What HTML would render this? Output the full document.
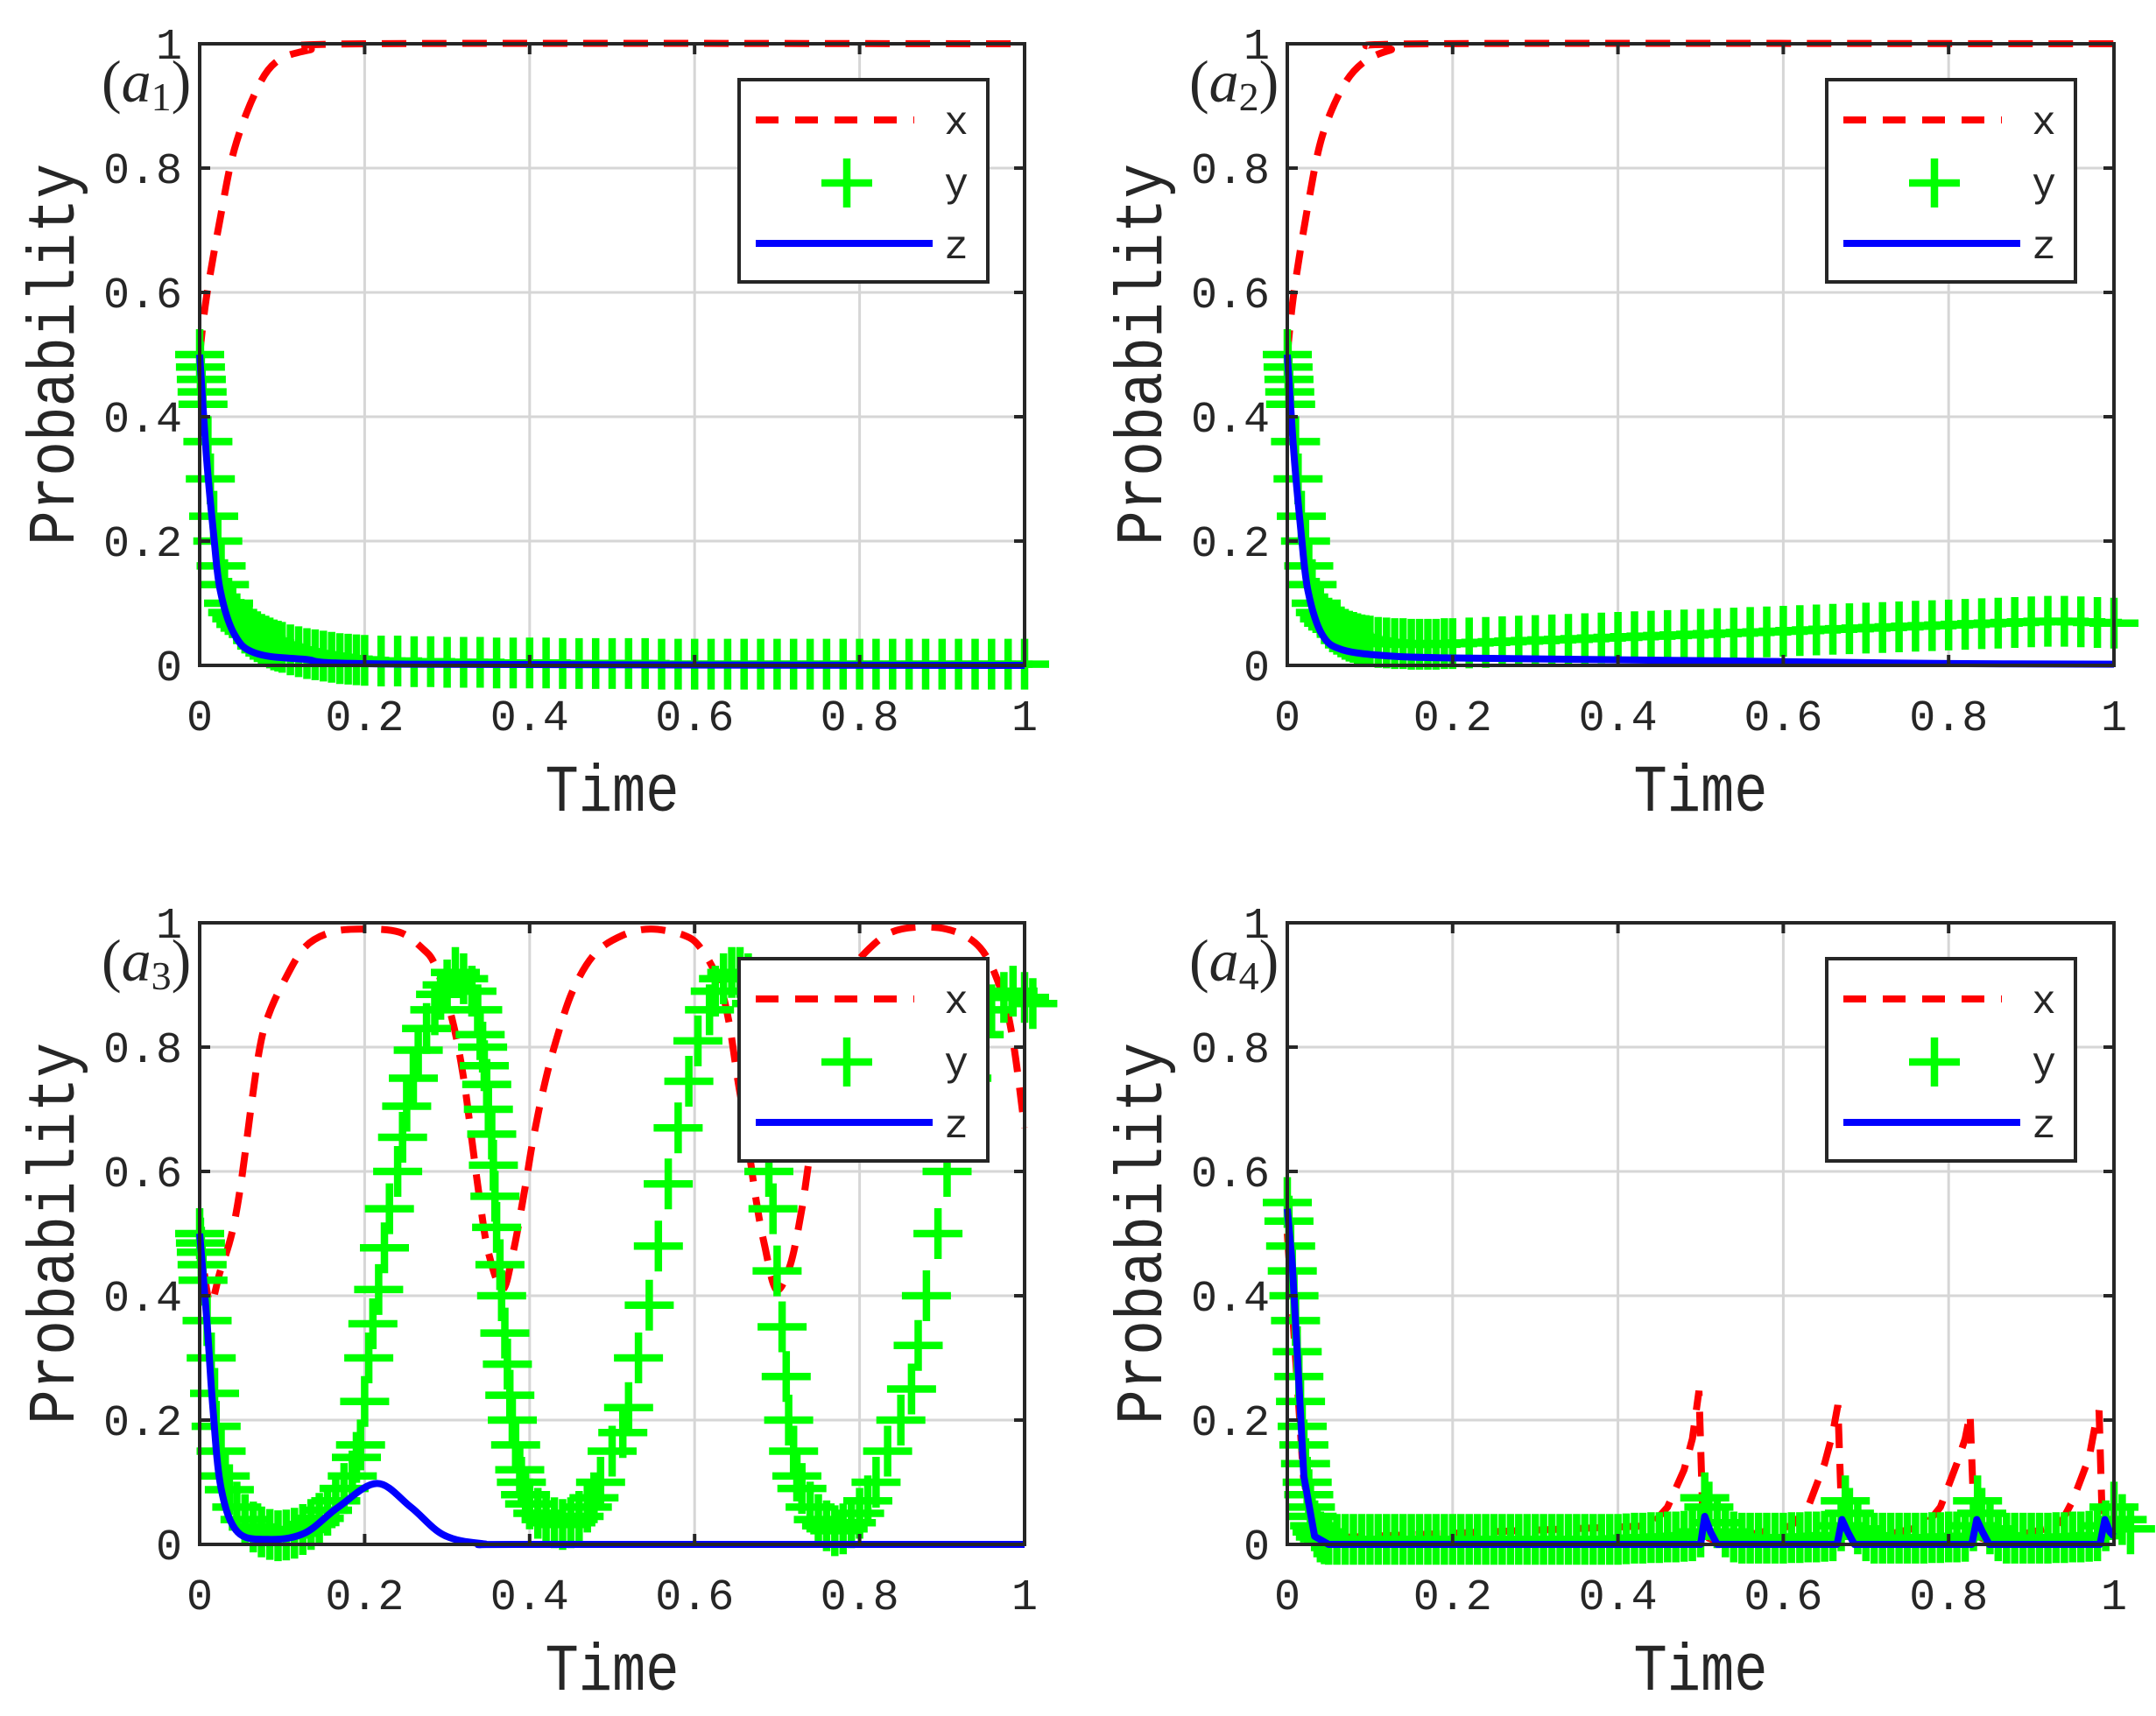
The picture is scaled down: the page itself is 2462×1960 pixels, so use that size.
<!DOCTYPE html>
<html><head><meta charset="utf-8"><style>
html,body{margin:0;padding:0;background:#fff;}
svg{display:block;}
text{font-family:"Liberation Mono",monospace;fill:#262626;}
</style></head><body>
<svg id="fig" width="2462" height="1960" viewBox="0 0 2462 1960" xmlns="http://www.w3.org/2000/svg"></svg>
<script>
// ---------- data ----------
const ticks = [0, 0.2, 0.4, 0.6, 0.8, 1];
const tickLabels = ["0", "0.2", "0.4", "0.6", "0.8", "1"];
const legendLabels = ["x", "y", "z"];
const panelLabels = ["1", "2", "3", "4"];

// Panel a1
const x1T = [0,0.008,0.025,0.042,0.067,0.092,0.133,0.2,1];
const x1V = [0.5,0.59,0.72,0.83,0.92,0.97,0.99,1,1];
const z1T = [0,0.008,0.017,0.025,0.042,0.067,0.125,0.25,1];
const z1V = [0.5,0.34,0.21,0.12,0.05,0.02,0.01,0.002,0];
const y1T = [0,0.001,0.002,0.003,0.004,0.01,0.013,0.017,0.022,0.026,0.03,0.035,0.04,0.045,0.05,0.055,0.06,0.065,0.07,0.075,0.08,0.085,0.09,0.095,0.1,0.11,0.12,0.13,0.14,0.15,0.16,0.17,0.18,0.19,0.2,0.22,0.24,0.26,0.28,0.3,0.32,0.34,0.36,0.38,0.4,0.42,0.44,0.46,0.48,0.5,0.52,0.54,0.56,0.58,0.6,0.62,0.64,0.66,0.68,0.7,0.72,0.74,0.76,0.78,0.8,0.82,0.84,0.86,0.88,0.9,0.92,0.94,0.96,0.98,1];
const y1V = [0.5,0.48,0.46,0.44,0.42,0.36,0.3,0.24,0.2,0.16,0.13,0.1,0.085,0.075,0.066,0.06,0.055,0.05,0.046,0.042,0.039,0.036,0.033,0.031,0.029,0.025,0.022,0.019,0.017,0.015,0.013,0.011,0.01,0.009,0.008,0.007,0.007,0.006,0.006,0.005,0.005,0.005,0.004,0.004,0.004,0.004,0.003,0.003,0.003,0.003,0.003,0.003,0.002,0.002,0.002,0.002,0.002,0.002,0.002,0.002,0.002,0.002,0.002,0.002,0.002,0.002,0.002,0.002,0.002,0.002,0.002,0.002,0.002,0.002,0.002];

// Panel a2
const x2T = [0,0.008,0.025,0.042,0.067,0.092,0.125,0.17,1];
const x2V = [0.5,0.6,0.74,0.85,0.93,0.97,0.99,1,1];
const z2T = [0,0.008,0.017,0.025,0.042,0.067,0.125,0.2,0.4,0.6,0.8,1];
const z2V = [0.5,0.34,0.21,0.12,0.05,0.025,0.015,0.012,0.009,0.006,0.003,0.002];
const y2T = y1T;
const y2V = [0.5,0.48,0.46,0.44,0.42,0.36,0.3,0.24,0.2,0.16,0.13,0.1,0.085,0.075,0.068,0.062,0.058,0.054,0.05,0.047,0.045,0.043,0.041,0.04,0.039,0.037,0.036,0.035,0.035,0.034,0.034,0.034,0.034,0.035,0.035,0.036,0.037,0.038,0.039,0.040,0.041,0.042,0.043,0.044,0.045,0.046,0.047,0.048,0.049,0.050,0.051,0.052,0.053,0.054,0.055,0.056,0.057,0.058,0.059,0.060,0.061,0.062,0.063,0.064,0.065,0.066,0.067,0.068,0.069,0.070,0.071,0.071,0.070,0.069,0.068];

// Panel a3
const x3T = [0,0.012,0.025,0.039,0.05,0.063,0.073,0.083,0.1,0.127,0.16,0.2,0.242,0.269,0.286,0.306,0.32,0.33,0.34,0.35,0.367,0.38,0.394,0.404,0.418,0.432,0.452,0.479,0.513,0.547,0.587,0.607,0.628,0.641,0.652,0.662,0.675,0.685,0.699,0.716,0.73,0.74,0.76,0.785,0.817,0.851,0.905,0.946,0.972,0.986,1];
const x3V = [0.5,0.39,0.44,0.5,0.58,0.71,0.8,0.85,0.9,0.96,0.985,0.99,0.985,0.96,0.93,0.845,0.75,0.65,0.55,0.47,0.41,0.47,0.57,0.65,0.74,0.81,0.89,0.95,0.98,0.99,0.98,0.96,0.91,0.845,0.75,0.67,0.55,0.48,0.41,0.45,0.54,0.63,0.8,0.91,0.965,0.99,0.99,0.96,0.89,0.81,0.67];
const z3T = [0,0.009,0.016,0.026,0.046,0.083,0.127,0.168,0.215,0.256,0.296,0.344,0.4,1];
const z3V = [0.5,0.355,0.22,0.09,0.02,0.008,0.018,0.06,0.098,0.06,0.015,0.001,0,0];
const y3T = [0,0.001,0.002,0.003,0.004,0.009,0.014,0.018,0.02,0.026,0.031,0.036,0.045,0.055,0.065,0.075,0.085,0.095,0.105,0.115,0.125,0.135,0.145,0.155,0.165,0.175,0.185,0.19,0.195,0.2,0.205,0.21,0.217,0.224,0.23,0.24,0.246,0.251,0.259,0.265,0.275,0.285,0.292,0.3,0.31,0.32,0.33,0.337,0.34,0.343,0.345,0.348,0.35,0.354,0.356,0.358,0.36,0.364,0.366,0.37,0.373,0.376,0.379,0.383,0.388,0.39,0.395,0.4,0.41,0.42,0.43,0.44,0.45,0.46,0.47,0.478,0.486,0.5,0.513,0.52,0.532,0.545,0.556,0.568,0.58,0.593,0.604,0.618,0.625,0.635,0.645,0.655,0.665,0.675,0.685,0.69,0.695,0.7,0.706,0.711,0.714,0.72,0.724,0.73,0.74,0.75,0.76,0.77,0.78,0.79,0.8,0.81,0.82,0.834,0.85,0.863,0.871,0.881,0.895,0.906,0.918,0.93,0.945,0.96,0.975,0.986,1,1.01];
const y3V = [0.5,0.485,0.47,0.45,0.425,0.36,0.3,0.243,0.19,0.15,0.11,0.088,0.06,0.04,0.028,0.02,0.016,0.014,0.015,0.018,0.024,0.032,0.042,0.055,0.07,0.09,0.11,0.14,0.16,0.23,0.3,0.355,0.41,0.477,0.54,0.6,0.655,0.705,0.75,0.795,0.83,0.86,0.885,0.9,0.92,0.91,0.89,0.86,0.82,0.8,0.77,0.74,0.7,0.66,0.61,0.56,0.51,0.45,0.4,0.34,0.29,0.24,0.2,0.16,0.12,0.1,0.08,0.065,0.05,0.04,0.035,0.032,0.035,0.045,0.06,0.075,0.1,0.15,0.18,0.22,0.3,0.385,0.48,0.58,0.67,0.745,0.81,0.86,0.89,0.91,0.92,0.92,0.91,0.87,0.75,0.6,0.54,0.44,0.35,0.27,0.2,0.15,0.11,0.09,0.06,0.04,0.03,0.022,0.025,0.035,0.05,0.07,0.1,0.15,0.2,0.25,0.32,0.4,0.5,0.6,0.68,0.75,0.82,0.86,0.88,0.89,0.88,0.87];

// Panel a4
const x4T = [0,0.02,0.04,0.44,0.46,0.48,0.49,0.498,0.503,0.51,0.52,0.61,0.63,0.65,0.66,0.666,0.671,0.68,0.69,0.772,0.79,0.81,0.82,0.826,0.831,0.84,0.85,0.934,0.95,0.97,0.977,0.982,0.986,0.99];
const x4V = [0.5,0.1,0.01,0.03,0.06,0.12,0.17,0.247,0.03,0.01,0.005,0.03,0.06,0.13,0.18,0.224,0.03,0.01,0.005,0.03,0.06,0.13,0.17,0.21,0.03,0.01,0.005,0.03,0.07,0.14,0.19,0.215,0.03,0.01];
const z4T = [0,0.006,0.012,0.02,0.033,0.05,0.5,0.505,0.512,0.52,0.665,0.671,0.678,0.686,0.828,0.834,0.841,0.849,0.983,0.989,0.995,1];
const z4V = [0.54,0.45,0.31,0.11,0.013,0,0,0.045,0.02,0,0,0.04,0.02,0,0,0.04,0.02,0,0,0.04,0.02,0.013];
const y4T = [0,0.002,0.004,0.006,0.008,0.01,0.012,0.014,0.016,0.018,0.02,0.022,0.024,0.026,0.028,0.03,0.033,0.036,0.04,0.045,0.05,0.06,0.07,0.08,0.09,0.1,0.11,0.12,0.13,0.14,0.15,0.16,0.17,0.18,0.19,0.2,0.21,0.22,0.23,0.24,0.25,0.26,0.27,0.28,0.29,0.3,0.31,0.32,0.33,0.34,0.35,0.36,0.37,0.38,0.39,0.4,0.41,0.42,0.43,0.44,0.45,0.46,0.47,0.48,0.49,0.5,0.505,0.51,0.52,0.53,0.54,0.55,0.56,0.57,0.58,0.59,0.6,0.61,0.62,0.63,0.64,0.65,0.66,0.67,0.675,0.68,0.69,0.7,0.71,0.72,0.73,0.74,0.75,0.76,0.77,0.78,0.79,0.8,0.81,0.82,0.83,0.835,0.84,0.85,0.86,0.87,0.88,0.89,0.9,0.91,0.92,0.93,0.94,0.95,0.96,0.97,0.98,0.99,1,1.01,1.02];
const y4V = [0.55,0.52,0.48,0.44,0.4,0.36,0.31,0.27,0.23,0.19,0.16,0.13,0.1,0.08,0.06,0.045,0.03,0.02,0.012,0.009,0.008,0.008,0.008,0.008,0.008,0.008,0.008,0.008,0.008,0.008,0.008,0.008,0.008,0.008,0.008,0.008,0.008,0.008,0.008,0.008,0.008,0.008,0.008,0.008,0.008,0.008,0.008,0.008,0.008,0.008,0.008,0.008,0.008,0.008,0.008,0.008,0.009,0.01,0.01,0.011,0.011,0.012,0.012,0.013,0.014,0.02,0.075,0.06,0.035,0.02,0.012,0.01,0.01,0.01,0.01,0.01,0.01,0.011,0.011,0.012,0.012,0.013,0.014,0.03,0.07,0.05,0.025,0.014,0.01,0.01,0.01,0.01,0.01,0.01,0.01,0.011,0.011,0.012,0.012,0.013,0.03,0.07,0.05,0.025,0.014,0.01,0.01,0.01,0.01,0.01,0.01,0.011,0.011,0.012,0.012,0.013,0.014,0.03,0.06,0.04,0.025];

// ---------- drawing ----------
const NS = "http://www.w3.org/2000/svg";
const svg = document.getElementById("fig");
function mk(tag, attrs, parent) {
  const e = document.createElementNS(NS, tag);
  for (const k in attrs) e.setAttribute(k, attrs[k]);
  (parent || svg).appendChild(e);
  return e;
}
function pathFrom(pts, smooth) {
  if (!smooth) return pts.map((q, i) => (i ? "L" : "M") + q[0].toFixed(1) + " " + q[1].toFixed(1)).join(" ");
  let d = "M" + pts[0][0].toFixed(1) + " " + pts[0][1].toFixed(1);
  for (let i = 0; i < pts.length - 1; i++) {
    const p0 = pts[Math.max(0, i - 1)], p1 = pts[i], p2 = pts[i + 1], p3 = pts[Math.min(pts.length - 1, i + 2)];
    const c1x = p1[0] + (p2[0] - p0[0]) / 6, c1y = p1[1] + (p2[1] - p0[1]) / 6;
    const c2x = p2[0] - (p3[0] - p1[0]) / 6, c2y = p2[1] - (p3[1] - p1[1]) / 6;
    d += ` C${c1x.toFixed(1)} ${c1y.toFixed(1)} ${c2x.toFixed(1)} ${c2y.toFixed(1)} ${p2[0].toFixed(1)} ${p2[1].toFixed(1)}`;
  }
  return d;
}
const panels = [
  {L:228, T:50, W:942, H:710, xT:x1T, xV:x1V, yT:y1T, yV:y1V, zT:z1T, zV:z1V, lab:panelLabels[0], smooth:true},
  {L:1470, T:50, W:944, H:710, xT:x2T, xV:x2V, yT:y2T, yV:y2V, zT:z2T, zV:z2V, lab:panelLabels[1], smooth:true},
  {L:228, T:1054, W:942, H:710, xT:x3T, xV:x3V, yT:y3T, yV:y3V, zT:z3T, zV:z3V, lab:panelLabels[2], smooth:true},
  {L:1470, T:1054, W:944, H:710, xT:x4T, xV:x4V, yT:y4T, yV:y4V, zT:z4T, zV:z4V, lab:panelLabels[3], smooth:false}
];

panels.forEach((p, pi) => {
  const sx = t => p.L + t * p.W;
  const sy = v => p.T + p.H - v * p.H;
  const g = mk("g", {});
  
  

  ticks.forEach((t, i) => {
    if (i > 0 && i < ticks.length - 1) {
      const gv = mk("line", {x1:sx(t), x2:sx(t), y1:p.T, y2:p.T+p.H, stroke:"#d6d6d6", "stroke-width":3}, g);
      
      
      const gh = mk("line", {x1:p.L, x2:p.L+p.W, y1:sy(t), y2:sy(t), stroke:"#d6d6d6", "stroke-width":3}, g);
      
      
    }
  });

  const xd = pathFrom(p.xT.map((t, i) => [sx(t), sy(p.xV[i])]), p.smooth);
  const xl = mk("path", {d:xd, fill:"none", stroke:"#ff0000", "stroke-width":8, "stroke-dasharray":"28 18"}, g);
  
  

  const yg = mk("g", {stroke:"#00ff00", "stroke-width":8.5}, g);
  
  
  p.yT.forEach((t, i) => {
    const cx = sx(t), cy = sy(p.yV[i]);
    const m = mk("path", {d:`M${(cx-28).toFixed(1)} ${cy.toFixed(1)}H${(cx+28).toFixed(1)}M${cx.toFixed(1)} ${(cy-29).toFixed(1)}V${(cy+29).toFixed(1)}`}, yg);
    
    
  });

  const zd = pathFrom(p.zT.map((t, i) => [sx(t), sy(p.zV[i])]), p.smooth);
  const zl = mk("path", {d:zd, fill:"none", stroke:"#0000ff", "stroke-width":8, "stroke-linejoin":"round"}, g);
  
  

  const box = mk("rect", {x:p.L, y:p.T, width:p.W, height:p.H, fill:"none", stroke:"#262626", "stroke-width":4}, g);
  
  

  ticks.forEach((t, i) => {
    const tk = mk("path", {d:`M${sx(t)} ${p.T+p.H}v-12M${sx(t)} ${p.T}v12M${p.L} ${sy(t)}h12M${p.L+p.W} ${sy(t)}h-12`, stroke:"#262626", "stroke-width":4}, g);
    
    
    const xt = mk("text", {x:sx(t), y:p.T+p.H+74, "font-size":50, "text-anchor":"middle"}, g);
    xt.textContent = tickLabels[i];
    
    
    const yt = mk("text", {x:p.L-20, y:sy(t)+17, "font-size":50, "text-anchor":"end"}, g);
    yt.textContent = tickLabels[i];
    
    
  });

  const xtitle = mk("text", {x:p.L+p.W/2, y:p.T+p.H+166, "font-size":76, "text-anchor":"middle", textLength:153, lengthAdjust:"spacingAndGlyphs"}, g);
  xtitle.textContent = "Time";
  
  
  const ytitle = mk("text", {x:0, y:0, "font-size":76, "text-anchor":"middle", textLength:436, lengthAdjust:"spacingAndGlyphs", transform:`translate(${p.L-144},${p.T+p.H/2}) rotate(-90)`}, g);
  ytitle.textContent = "Probability";
  
  

  const pl = mk("text", {x:p.L-112, y:p.T+66, "font-size":68, style:"font-family:'Liberation Serif',serif"}, g);
  
  
  const s1 = mk("tspan", {}, pl); s1.textContent = "(";
  const s2 = mk("tspan", {"font-style":"italic"}, pl); s2.textContent = "a";
  const s3 = mk("tspan", {"font-size":46, dy:10}, pl); s3.textContent = p.lab;
  const s4 = mk("tspan", {dy:-10}, pl); s4.textContent = ")";

  const LX = p.L + 616, LY = p.T + 41;
  const lg = mk("g", {}, g);
  
  
  mk("rect", {x:LX, y:LY, width:284, height:231, fill:"#fff", stroke:"#262626", "stroke-width":4}, lg);
  const e1 = mk("line", {x1:LX+19, x2:LX+200, y1:LY+46, y2:LY+46, stroke:"#ff0000", "stroke-width":8, "stroke-dasharray":"26 19"}, lg);
  
  
  const e2 = mk("path", {d:`M${LX+94} ${LY+118}h58M${LX+123} ${LY+90}v56`, stroke:"#00ff00", "stroke-width":8.5}, lg);
  
  
  const e3 = mk("line", {x1:LX+19, x2:LX+221, y1:LY+187, y2:LY+187, stroke:"#0000ff", "stroke-width":8}, lg);
  
  
  legendLabels.forEach((s, i) => {
    const lt = mk("text", {x:LX+248, y:LY+62+i*71, "font-size":46, "text-anchor":"middle"}, lg);
    lt.textContent = s;
    
    
  });
});
</script>
</body></html>
